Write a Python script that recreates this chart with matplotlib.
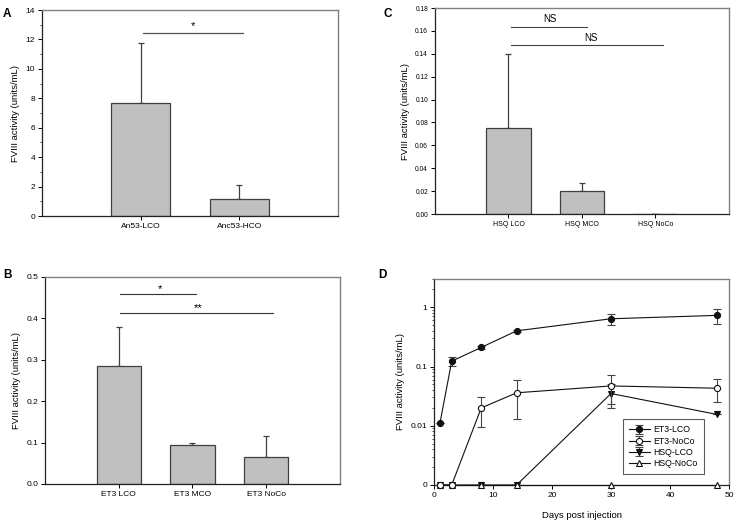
import numpy as np
import matplotlib
matplotlib.use("Agg")
import matplotlib.pyplot as plt
from matplotlib.ticker import FixedLocator, FixedFormatter, LogLocator, NullFormatter, MultipleLocator

plt.rcParams['font.family'] = ['Liberation Sans', 'DejaVu Sans']

# --- data ---
# Panel A
catA = ["An53-LCO", "Anc53-HCO"]
meanA = [7.65, 1.18]
errA = [4.1, 0.92]

# Panel B
catB = ["ET3 LCO", "ET3 MCO", "ET3 NoCo"]
meanB = [0.285, 0.093, 0.066]
errB = [0.093, 0.006, 0.051]

# Panel C
catC = ["HSQ LCO", "HSQ MCO", "HSQ NoCo"]
meanC = [0.075, 0.020, 0.0]
errC = [0.065, 0.0075, 0.0]

# Panel D (0 = below detection, drawn on the "0" line)
days = [1, 3, 8, 14, 30, 48]
et3_lco = [0.011, 0.123, 0.21, 0.40, 0.64, 0.73]
et3_lco_err = [0.0, 0.022, 0.015, 0.02, 0.13, 0.21]
et3_noco = [0, 0, 0.020, 0.036, 0.047, 0.043]
et3_noco_err = [0, 0, 0.0105, 0.023, 0.024, 0.018]
hsq_lco = [0, 0, 0, 0, 0.035, 0.0155]
hsq_lco_err = [0, 0, 0, 0, 0.015, 0.0]
hsq_noco = [0, 0, 0, 0, 0, 0]

ylabel = "FVIII activity (units/mL)"
barcol = "#c0c0c0"
edgecol = "#404040"

fig = plt.figure(figsize=(7.34, 5.22), dpi=100)
axA = fig.add_axes([0.0572, 0.5862, 0.4033, 0.3946])
axC = fig.add_axes([0.5926, 0.5900, 0.4005, 0.3946])
axB = fig.add_axes([0.0613, 0.0728, 0.4019, 0.3966])
axD = fig.add_axes([0.5913, 0.0709, 0.4019, 0.3946])


def style(ax, tsize=6):
    for s in ["left", "bottom"]:
        ax.spines[s].set_color("#222222")
        ax.spines[s].set_linewidth(0.9)
    for s in ["top", "right"]:
        ax.spines[s].set_color("#808080")
        ax.spines[s].set_linewidth(1.0)
    ax.tick_params(direction="out", length=3, width=0.7, labelsize=tsize,
                   top=False, right=False, pad=2)
    ax.tick_params(which="minor", direction="out", length=1.8, width=0.5)
    ax.set_ylabel(ylabel, fontsize=6.8, labelpad=4)


def bars(ax, cats, means, errs):
    x = np.arange(1, len(cats) + 1)
    ax.bar(x, means, width=0.6, color=barcol, edgecolor=edgecol, linewidth=0.9, zorder=2)
    ax.errorbar(x, means, yerr=[np.zeros(len(errs)), errs], fmt="none",
                ecolor=edgecol, elinewidth=0.9, capsize=2.5, capthick=0.9, zorder=1)
    ax.set_xlim(0, len(cats) + 1)
    ax.set_xticks(x)
    ax.set_xticklabels(cats)


# Panel A
bars(axA, catA, meanA, errA)
axA.set_ylim(0, 14)
axA.yaxis.set_major_locator(MultipleLocator(2))
axA.yaxis.set_minor_locator(MultipleLocator(1))
style(axA)
axA.plot([1.02, 2.04], [12.46, 12.46], color="#555555", lw=0.9)
axA.text(1.53, 12.55, "*", ha="center", va="bottom", fontsize=8)

# Panel B
bars(axB, catB, meanB, errB)
axB.set_ylim(0, 0.5)
axB.yaxis.set_major_locator(MultipleLocator(0.1))
axB.yaxis.set_major_formatter(matplotlib.ticker.FormatStrFormatter("%.1f"))
style(axB)
axB.plot([1.02, 2.05], [0.458, 0.458], color="#333333", lw=0.8)
axB.plot([1.02, 3.09], [0.413, 0.413], color="#333333", lw=0.8)
axB.text(1.56, 0.458, "*", ha="center", va="bottom", fontsize=8)
axB.text(2.08, 0.413, "**", ha="center", va="bottom", fontsize=8)

# Panel C
bars(axC, catC, meanC, errC)
axC.set_ylim(0, 0.18)
axC.yaxis.set_major_locator(MultipleLocator(0.02))
axC.yaxis.set_major_formatter(matplotlib.ticker.FormatStrFormatter("%.2f"))
style(axC, tsize=4.8)
axC.tick_params(axis="x", labelsize=5)
axC.plot([1.03, 2.07], [0.1637, 0.1637], color="#444444", lw=0.8)
axC.plot([1.03, 3.10], [0.1474, 0.1474], color="#444444", lw=0.8)
axC.text(1.56, 0.1660, "NS", ha="center", va="bottom", fontsize=7)
axC.text(2.12, 0.1497, "NS", ha="center", va="bottom", fontsize=7)

# Panel D (log axis, "0" drawn at 0.001)
floor = 0.001


def lift(v):
    return [floor if a == 0 else a for a in v]


axD.set_yscale("log")
axD.set_ylim(floor, 3)
axD.set_xlim(0, 50)
kw = dict(color="#111111", lw=0.8, markersize=4.4, markeredgewidth=0.8,
          markeredgecolor="#111111", clip_on=False)
ekw = dict(ecolor="#444444", elinewidth=0.8, capsize=3, capthick=0.8)
axD.errorbar(days, lift(hsq_lco), yerr=hsq_lco_err, marker="v",
             markerfacecolor="#111111", label="HSQ-LCO", zorder=3, **kw, **ekw)
axD.errorbar(days, lift(hsq_noco), marker="^", markerfacecolor="white",
             label="HSQ-NoCo", zorder=4, **kw)
axD.errorbar(days, lift(et3_noco), yerr=et3_noco_err, marker="o",
             markerfacecolor="white", label="ET3-NoCo", zorder=5, **kw, **ekw)
axD.errorbar(days, et3_lco, yerr=et3_lco_err, marker="o",
             markerfacecolor="#111111", label="ET3-LCO", zorder=6, **kw, **ekw)
style(axD)
axD.yaxis.set_major_locator(FixedLocator([0.001, 0.01, 0.1, 1]))
axD.yaxis.set_major_formatter(FixedFormatter(["0", "0.01", "0.1", "1"]))
axD.yaxis.set_minor_locator(LogLocator(base=10, subs=np.arange(2, 10)))
axD.yaxis.set_minor_formatter(NullFormatter())
axD.xaxis.set_major_locator(MultipleLocator(10))
axD.set_xlabel("Days post injection", fontsize=6.8, labelpad=9)

h, l = axD.get_legend_handles_labels()
order = [l.index(n) for n in ["ET3-LCO", "ET3-NoCo", "HSQ-LCO", "HSQ-NoCo"]]
leg = axD.legend([h[i] for i in order], [l[i] for i in order],
                 loc="lower left", bbox_to_anchor=(0.64, 0.053),
                 fontsize=6.3, frameon=True, fancybox=False, handlelength=2.4,
                 borderpad=0.7, labelspacing=0.25, handletextpad=0.4,
                 borderaxespad=0)
leg.get_frame().set_edgecolor("#333333")
leg.get_frame().set_linewidth(0.8)

# panel letters
for lab, x, y in [("A", 0.004, 0.985), ("C", 0.523, 0.985),
                  ("B", 0.004, 0.485), ("D", 0.515, 0.485)]:
    fig.text(x, y, lab, fontsize=8.5, fontweight="bold", va="top", ha="left")

fig.savefig("out.png", dpi=100)
